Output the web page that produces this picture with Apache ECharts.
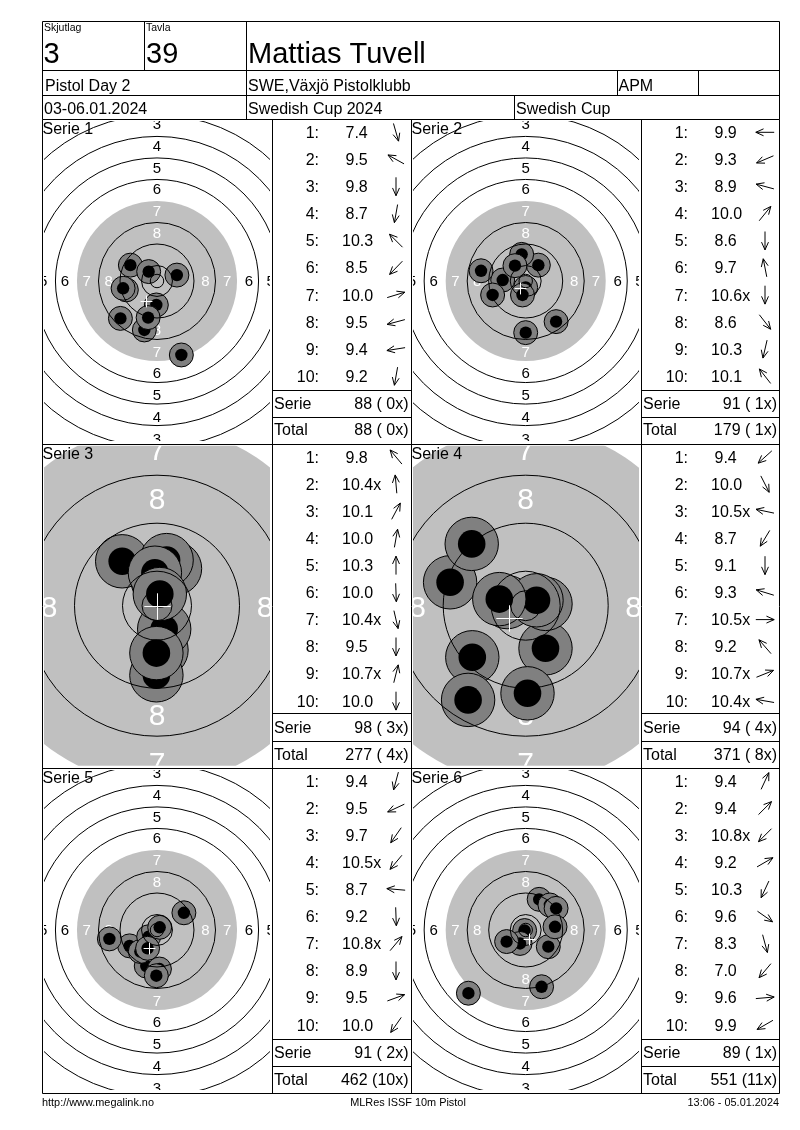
<!DOCTYPE html>
<html><head><meta charset="utf-8">
<style>html,body{margin:0;padding:0;background:#fff}#c{width:800px;height:1130px}</style>
<script src="https://cdn.jsdelivr.net/npm/echarts@6/dist/echarts.min.js"></script>
</head><body><div id="c"></div>
<script>
// ---- data ----
const serieNames = ['Serie 1','Serie 2','Serie 3','Serie 4','Serie 5','Serie 6'];
const scores = [
 ['7.4','9.5','9.8','8.7','10.3','8.5','10.0','9.5','9.4','9.2'],
 ['9.9','9.3','8.9','10.0','8.6','9.7','10.6x','8.6','10.3','10.1'],
 ['9.8','10.4x','10.1','10.0','10.3','10.0','10.4x','9.5','10.7x','10.0'],
 ['9.4','10.0','10.5x','8.7','9.1','9.3','10.5x','9.2','10.7x','10.4x'],
 ['9.4','9.5','9.7','10.5x','8.7','9.2','10.8x','8.9','9.5','10.0'],
 ['9.4','9.4','10.8x','9.2','10.3','9.6','8.3','7.0','9.6','9.9']
];
// arrow direction, degrees clockwise from "up"
const arrows = [
 [164,299,180,190,315,224,73,255,261,190],
 [270,247,285,39,180,349,180,142,193,322],
 [320,355,28,10,0,178,167,180,14,180],
 [228,153,282,211,180,287,90,319,68,280],
 [195,245,215,220,275,178,40,180,70,215],
 [25,45,225,60,205,125,165,220,85,240]
];
// hole positions in mm from target centre
const holeX = [
 [9.05,-9.9,-0.25,-4.7,-3.1,-13.6,7.4,-11.4,-12.6,-3.3],
 [-8.55,-12.3,-16.6,4.7,0,-1.5,0,11.3,-1.2,-4],
 [-5.8,0.1,3,1.6,-0.35,0.75,1.2,-0.1,0.47,-0.1],
 [-8.9,3.3,-3.1,-9.6,0.3,-12.6,3.3,-9,1.8,-4.4],
 [-4,-10.2,-6.2,-3.1,-17.7,0.9,1,-0.25,10,-3.5],
 [5,9,-0.4,11.3,-2.1,8.4,5.9,-21.3,10.9,-7.1]
];
const holeY = [
 [-27.5,5.9,-8.9,-18.2,3.5,-13.9,2.2,-3.3,-2.7,-13.6],
 [0.37,-5.2,3.8,5.9,-19.2,9.9,-2.4,-15.1,-5.2,5.7],
 [7.4,4.2,6.2,7.6,5.5,-7.4,-3.9,-11.6,1.94,-7.9],
 [-8.6,-7.1,0.6,-15.7,-14.6,3.9,0.3,10.3,0.9,1.1],
 [-13.4,-5.9,-8,-2.5,-3.3,-14.5,1,-17,6.4,-6.8],
 [11.4,9.3,-0.2,8.05,-5,-6.2,-21.1,-23.5,1.2,-4.3]
];
const crossX = [-3.97,-2.1,0.03,-2.8,-3.1,1.2];
const crossY = [-7.3,-2.7,-0.05,-2.1,-6.8,-3.5];
const serieTotals = ['88 ( 0x)','91 ( 1x)','98 ( 3x)','94 ( 4x)','91 ( 2x)','89 ( 1x)'];
const runningTotals = ['88 ( 0x)','179 ( 1x)','277 ( 4x)','371 ( 8x)','462 (10x)','551 (11x)'];
const rowLabels = ['1:','2:','3:','4:','5:','6:','7:','8:','9:','10:'];
const ringRadii = [61.75,53.75,45.75,37.75,21.75,13.75,5.75,2.5];
const ringNumbers = [3,4,5,6,7,8];
const ringNumberRadii = [58.4,50.4,42.3,34.2,26.1,18.0];
const blackRadius = 29.75;
const holeOuter = 4.45, holeInner = 2.3, crossArm = 2.2;

// ---- layout ----
const FONT = '"Liberation Sans", Arial, sans-serif';
const colCx = [157, 525.7], rowCy = [281, 605.7, 930];
const tableLeft = [272.5, 641.5];
const rowBase = [132.3, 457, 781];
const serieY = [403, 727.7, 1052.7], totalY = [429.7, 754, 1079];
const lineA = [390.5, 713.5, 1039.5], lineB = [417.5, 741.5, 1066.5];
const scales = [2.69, 2.69, 6, 6, 2.69, 2.69];
const labelFont = [15, 15, 30, 30, 15, 15];

const grids = [], xAxes = [], yAxes = [], series = [];
function addAxisPair(g, xa, ya){ const i = grids.length; grids.push(g); xAxes.push(Object.assign({gridIndex:i, show:false}, xa)); yAxes.push(Object.assign({gridIndex:i, show:false}, ya)); return i; }

for (let p = 0; p < 6; p++) {
  const col = p % 2, row = Math.floor(p / 2), s = scales[p];
  const idx = addAxisPair(
    {left: colCx[col]-112.5, top: rowCy[row]-160, width: 225, height: 320},
    {type:'value', min:-112.5/s, max:112.5/s},
    {type:'value', min:-160/s, max:160/s});
  const base = {type:'custom', xAxisIndex:idx, yAxisIndex:idx, clip:true, silent:true, animation:false, coordinateSystem:'cartesian2d'};
  // black-area disc
  series.push(Object.assign({}, base, {z:2, data:[[0,0,blackRadius]], renderItem(_, api){
    const c = api.coord([0,0]), r = api.size([api.value(2),0])[0];
    return {type:'circle', shape:{cx:c[0], cy:c[1], r}, style:{fill:'#c0c0c0', stroke:null}};
  }}));
  // ring numbers
  const numData = [];
  ringNumbers.forEach((n,i) => { const r = ringNumberRadii[i];
    numData.push([0,r,n],[0,-r,n],[-r,0,n],[r,0,n]); });
  series.push(Object.assign({}, base, {z:3, data:numData, renderItem(_, api){
    const c = api.coord([api.value(0),api.value(1)]), n = api.value(2);
    return {type:'text', style:{x:c[0], y:c[1]+labelFont[p]*0.09, text:String(n), fill:n>=7?'#ffffff':'#000000',
      font:labelFont[p]+'px '+FONT, align:'center', verticalAlign:'middle', textAlign:'center', textVerticalAlign:'middle'}};
  }}));
  // holes
  const holes = holeX[p].map((x,i)=>[x,holeY[p][i]]);
  series.push(Object.assign({}, base, {z:4, data:holes, renderItem(_, api){
    const c = api.coord([api.value(0),api.value(1)]);
    return {type:'group', children:[
      {type:'circle', shape:{cx:c[0],cy:c[1],r:api.size([holeOuter,0])[0]}, style:{fill:'#808080',stroke:'#000',lineWidth:1}},
      {type:'circle', shape:{cx:c[0],cy:c[1],r:api.size([holeInner,0])[0]}, style:{fill:'#000',stroke:null}}
    ]};
  }}));
  // ring lines
  series.push(Object.assign({}, base, {z:5, data:ringRadii.map(r=>[0,0,r]), renderItem(_, api){
    const c = api.coord([0,0]);
    return {type:'circle', shape:{cx:c[0],cy:c[1],r:api.size([api.value(2),0])[0]}, style:{fill:null,stroke:'#000',lineWidth:1}};
  }}));
  // mean cross
  series.push(Object.assign({}, base, {z:6, data:[[crossX[p],crossY[p]]], renderItem(_, api){
    const c = api.coord([api.value(0),api.value(1)]), a = api.size([crossArm,0])[0];
    const cx = Math.round(c[0])+0.5, cy = Math.round(c[1])+0.5;
    const st = {stroke:'#fff',lineWidth:1};
    return {type:'group', children:[
      {type:'line', shape:{x1:cx-a,y1:cy,x2:cx+a,y2:cy}, style:st},
      {type:'line', shape:{x1:cx,y1:cy-a,x2:cx,y2:cy+a}, style:st}
    ]};
  }}));
  // score table
  const L = tableLeft[col];
  const t = addAxisPair(
    {left:L, top:rowBase[row]-13.55, width:138, height:271},
    {type:'value', min:0, max:138},
    {type:'category', inverse:true, data:rowLabels});
  series.push({type:'custom', xAxisIndex:t, yAxisIndex:t, silent:true, animation:false, z:7,
    data: scores[p].map((v,i)=>[i, arrows[p][i]]),
    renderItem(_, api){
      const i = api.value(0), ang = api.value(1)*Math.PI/180;
      const y = api.coord([0,i])[1];
      const xNo = api.coord([46.5,i])[0], xArrow = api.coord([123.5,i])[0];
      const txt = scores[p][i], wide = txt.length >= 4;
      const xVal = api.coord([wide ? 69.5 : 73,i])[0];
      const tf = {fill:'#000', font:'16px '+FONT, verticalAlign:'middle', textVerticalAlign:'middle'};
      const dx = Math.sin(ang), dy = -Math.cos(ang), len = 9.2;
      const hx = xArrow+dx*len, hy = y+dy*len, tx = xArrow-dx*len, ty = y-dy*len;
      const barb = a => { const b = ang+Math.PI+a; return {type:'line', shape:{x1:hx,y1:hy,x2:hx+Math.sin(b)*8.5,y2:hy-Math.cos(b)*8.5}, style:{stroke:'#000',lineWidth:1}}; };
      return {type:'group', children:[
        {type:'text', style:Object.assign({x:xNo,y:y+1.2,text:rowLabels[i],align:'right',textAlign:'right'},tf)},
        {type:'text', style:Object.assign({x:xVal,y:y+1.2,text:txt,align:'left',textAlign:'left'},tf)},
        {type:'line', shape:{x1:tx,y1:ty,x2:hx,y2:hy}, style:{stroke:'#000',lineWidth:1}},
        barb(0.42), barb(-0.42)
      ]};
    }});
}

// ---- frame and text ----
const g = [];
const hl = (x1,x2,y)=>g.push({type:'line',z:20,silent:true,shape:{x1,y1:y,x2,y2:y},style:{stroke:'#000',lineWidth:1}});
const vl = (x,y1,y2)=>g.push({type:'line',z:20,silent:true,shape:{x1:x,y1,x2:x,y2},style:{stroke:'#000',lineWidth:1}});
const tx = (text,x,y,size,align)=>g.push({type:'text',z:21,silent:true,style:{x,y:y+size*0.075,text,fill:'#000',font:size+'px '+FONT,align:align||'left',textAlign:align||'left',verticalAlign:'middle',textVerticalAlign:'middle'}});

[21.5,70.5,95.5,119.5,444.5,768.5,1093.5].forEach(y=>hl(42.5,779.5,y));
[42.5,272.5,411.5,641.5,779.5].forEach(x=>vl(x,119.5,1093.5));
[42.5,779.5,246.5].forEach(x=>vl(x,21.5,119.5));
vl(144.5,21.5,70.5); vl(617.5,70.5,95.5); vl(698.5,70.5,95.5); vl(514.5,95.5,119.5);
for (let r=0;r<3;r++) [0,1].forEach(c=>{
  const L = tableLeft[c]-0, R = c===0?411.5:779.5;
  hl(L,R,lineA[r]); hl(L,R,lineB[r]);
});

tx('Skjutlag',44,27.5,10.5); tx('Tavla',146,27.5,10.5);
tx('3',43.5,53,29); tx('39',146,53,29); tx('Mattias Tuvell',248,53,29);
tx('Pistol Day 2',45,85,16); tx('SWE,Växjö Pistolklubb',248,85,16); tx('APM',618.5,85,16);
tx('03-06.01.2024',44,108.5,16); tx('Swedish Cup 2024',248,108.5,16); tx('Swedish Cup',516,108.5,16);
tx('http://www.megalink.no',42,1102,10.9); tx('MLRes ISSF 10m Pistol',408,1102,10.9,'center'); tx('13:06 - 05.01.2024',779,1102,10.9,'right');

for (let p=0;p<6;p++){
  const col=p%2,row=Math.floor(p/2);
  tx(serieNames[p], col===0?42.5:411.5, rowCy[row]-152.5, 16);
  const L=tableLeft[col], R=col===0?408.5:777;
  tx('Serie',L+1.5,serieY[row],16); tx(serieTotals[p],R,serieY[row],16,'right');
  tx('Total',L+1.5,totalY[row],16); tx(runningTotals[p],R,totalY[row],16,'right');
}

const chart = echarts.init(document.getElementById('c'), null, {renderer:'canvas', width:800, height:1130});
chart.setOption({animation:false, backgroundColor:'#fff', grid:grids, xAxis:xAxes, yAxis:yAxes, series, graphic:{elements:g}});
</script></body></html>
